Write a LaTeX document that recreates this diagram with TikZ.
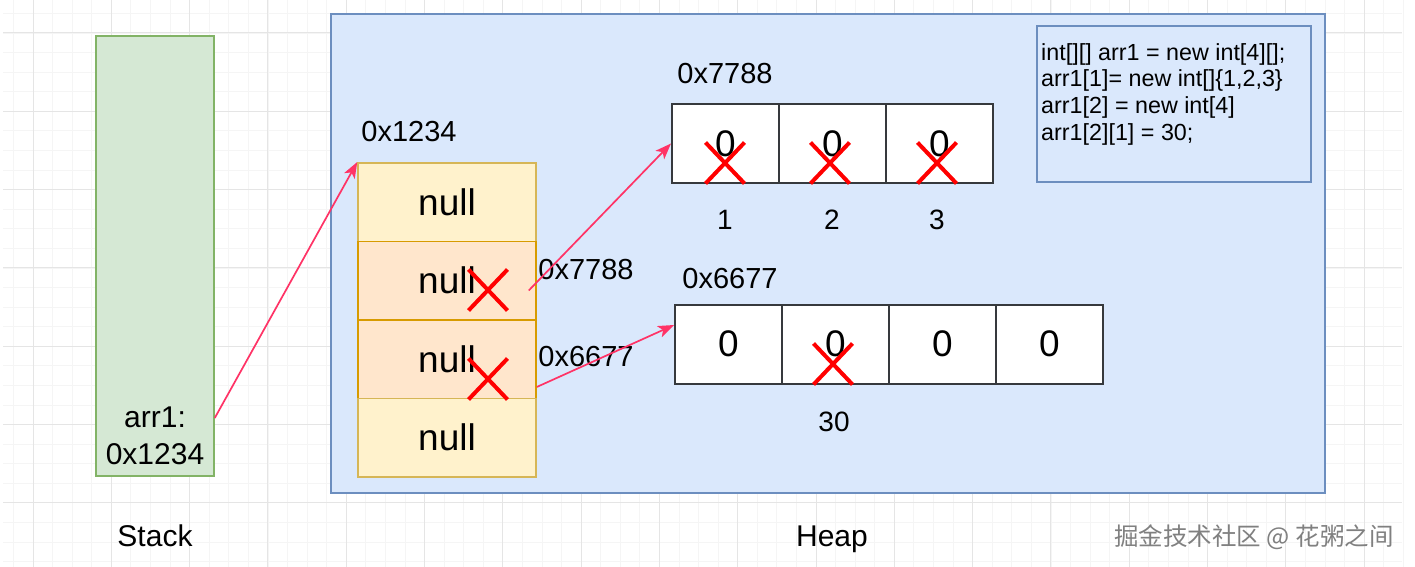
\documentclass[tikz,border=0pt]{standalone}
\usepackage{fontspec}
\setmainfont{Liberation Sans}
\newfontfamily\cjk{Noto Sans CJK SC}
\usetikzlibrary{shapes.misc,arrows.meta}
\definecolor{stackfill}{HTML}{D5E8D4}\definecolor{stackline}{HTML}{82B366}
\definecolor{heapfill}{HTML}{DAE8FC}\definecolor{heapline}{HTML}{6C8EBF}
\definecolor{yfill}{HTML}{FFF2CC}\definecolor{yline}{HTML}{D6B656}
\definecolor{ofill}{HTML}{FFE6CC}\definecolor{oline}{HTML}{D79B00}
\definecolor{ptr}{HTML}{FF3366}
\definecolor{cellline}{HTML}{36393D}
\tikzset{
  gridmajor/.style={draw={black!10}, line width=1pt},
  gridminor/.style={draw={black!4}, line width=0.8pt},
  fbig/.style={font=\fontsize{37}{44}\selectfont},
  fmid/.style={font=\fontsize{29}{35}\selectfont},
  fidx/.style={font=\fontsize{28}{34}\selectfont},
  refcell/.style={draw=yline, fill=yfill, line width=1.5pt, minimum width=178pt, minimum height=78.5pt, inner sep=0pt, fbig},
  refcellx/.style={refcell, draw=oline, fill=ofill},
  valcell/.style={draw=cellline, fill=white, line width=2pt, minimum width=107pt, minimum height=79pt, inner sep=0pt, fbig},
  xmark/.style={cross out, draw=red, line width=4pt, minimum width=35pt, minimum height=37pt, inner sep=0pt},
  pointer/.style={draw=ptr, line width=1.7pt, -{Stealth[length=16pt,width=12pt,inset=4pt]}},
  plain/.style={inner sep=0pt},
}
\begin{document}
\begin{tikzpicture}[x=1pt,y=-1pt]
\useasboundingbox (0,0) rectangle (1415,567);
\fill[white] (0,0) rectangle (1415,567);
% background grid
\foreach \k in {-1,...,70} \draw[gridminor] ({33+19.575*\k},0) -- ({33+19.575*\k},567);
\foreach \k in {-1,...,27} \draw[gridminor] (3,{33+19.575*\k}) -- (1402,{33+19.575*\k});
\foreach \k in {0,...,17} \draw[gridmajor] ({33+78.3*\k},0) -- ({33+78.3*\k},567);
\foreach \k in {0,...,6} \draw[gridmajor] (3,{33+78.3*\k}) -- (1402,{33+78.3*\k});

% stack
\node[draw=stackline, fill=stackfill, line width=1.5pt, minimum width=118pt, minimum height=440pt, inner sep=0pt] (stack) at (155,256) {};
\node[plain, fmid, align=center, anchor=north, font=\fontsize{30}{37}\selectfont] (stacktxt) at (155,407) {arr1:\\0x1234};
\node[plain, font=\fontsize{30}{36}\selectfont, anchor=base] (stacklbl) at (155,546) {Stack};

% heap
\node[draw=heapline, fill=heapfill, line width=2pt, minimum width=994pt, minimum height=479pt, inner sep=0pt] (heap) at (828,253.5) {};
\node[plain, font=\fontsize{30}{36}\selectfont, anchor=base] (heaplbl) at (832,546) {Heap};

% code box
\node[draw=heapline, fill=heapfill, line width=2pt, minimum width=274pt, minimum height=156pt, inner sep=0pt] (code) at (1174,104) {};
\node[plain, anchor=north west, align=left, font=\fontsize{23.3}{26.7}\selectfont] (codetxt) at (1041,43)
  {int[][] arr1 = new int[4][];\\arr1[1]= new int[]\{1,2,3\}\\arr1[2] = new int[4]\\arr1[2][1] = 30;};

% arr1 reference array
\node[refcell]  (a0) at (447,202) {null};
\node[refcellx] (a1) at (447,280.5) {null};
\node[refcellx] (a2) at (447,359) {null};
\node[refcell]  (a3) at (447,437.5) {null};
\node[plain, fmid] (l1234) at (409,132) {0x1234};

% 0x7788 array
\node[valcell] (b1) at (725.5,143.5) {0};
\node[valcell] (b2) at (832.5,143.5) {0};
\node[valcell] (b3) at (939.5,143.5) {0};
\node[plain, fmid] (l7788) at (725,74) {0x7788};
\node[plain, fidx] (i1) at (725,220) {1};
\node[plain, fidx] (i2) at (832,220) {2};
\node[plain, fidx] (i3) at (937,220) {3};

% 0x6677 array
\node[valcell] (c1) at (728.5,344) {0};
\node[valcell] (c2) at (835.5,344) {0};
\node[valcell] (c3) at (942.5,344) {0};
\node[valcell] (c4) at (1049.5,344) {0};
\node[plain, fmid] (l6677) at (730,279) {0x6677};
\node[plain, fidx] (v30) at (834,422) {30};

% labels beside arr1
\node[plain, fmid] (p7788) at (586,270) {0x7788};
\node[plain, fmid] (p6677) at (586,357) {0x6677};

% pointers
\draw[pointer] ([yshift=-162pt]stack.east) -- (a0.north west);
\draw[pointer] ([xshift=-8pt,yshift=-10pt]a1.east) -- (b1.west);
\draw[pointer] ([yshift=-28pt]a2.east) -- ([yshift=19pt]c1.west);

% red crosses
\node[xmark] (x1) at (725,163) {};
\node[xmark] (x2) at (830,163) {};
\node[xmark] (x3) at (937,163) {};
\node[xmark] (x4) at (833,364) {};
\node[xmark] (x5) at (488,290) {};
\node[xmark] (x6) at (488,379) {};

% watermark
\node[plain, text=black!50, font=\cjk\fontsize{24.5}{28}\selectfont] (wm) at (1254,537) {掘金技术社区 @ 花粥之间};
\end{tikzpicture}
\end{document}
